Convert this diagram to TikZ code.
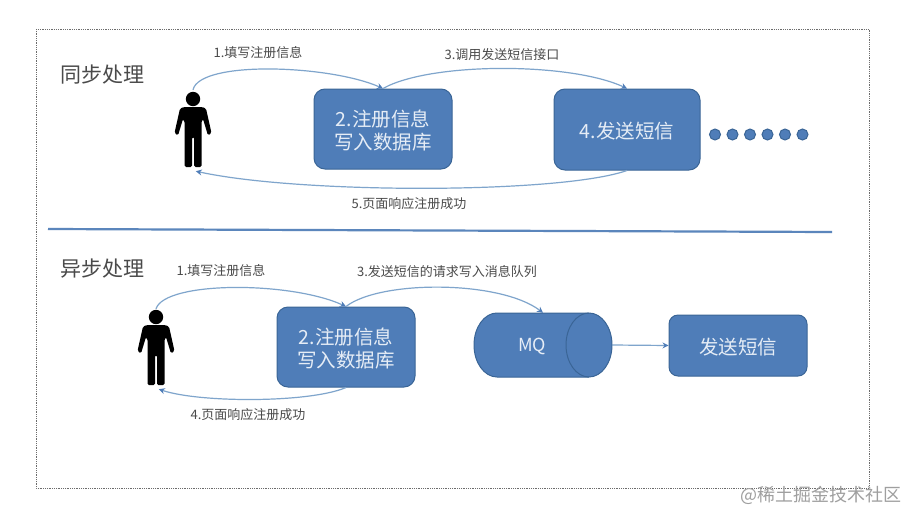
\documentclass[tikz,border=0pt]{standalone}
\usepackage{fontspec}
\setmainfont{Noto Sans CJK SC}
\usetikzlibrary{arrows.meta}
\definecolor{boxfill}{HTML}{4F7DB8}
\definecolor{boxline}{HTML}{3A6596}
\definecolor{curvecol}{HTML}{7FA5CC}
\definecolor{rulecol}{HTML}{5B86BC}
\definecolor{labelcol}{HTML}{4A4A4A}
\definecolor{boxtext}{HTML}{E6EDF6}
\newcommand\lowertext[1]{\raisebox{-2pt}[\height][\depth]{#1}}
\tikzset{
  flowbox/.style={draw=boxline,line width=1pt,fill=boxfill,rounded corners=11pt,inner sep=0pt,align=center,text=boxtext,font=\fontsize{19.5}{23}\selectfont},
  steplabel/.style={text=labelcol,inner sep=0pt,font=\fontsize{13}{15}\selectfont},
  titlelabel/.style={text=labelcol,inner sep=0pt,font=\fontsize{21}{25}\selectfont},
  flowarrow/.style={draw=curvecol,line width=1.2pt,-{Stealth[length=6pt,width=6pt,color=boxfill]}},
  personbox/.style={minimum width=36pt,inner sep=0pt,draw=none},
  dotnode/.style={circle,draw=boxline,line width=1pt,fill=boxfill,minimum size=11pt,inner sep=0pt},
  pics/persongraphic/.style={code={
    \fill[black] (0,0) circle (7.2);
    \fill[black,rounded corners=1.5pt] (-9,8) -- (9,8) -- (13,9.5) -- (18.5,34) -- (15,36.5) -- (10,20) -- (8.5,22) -- (8.5,68) -- (1,68) -- (1,38) -- (-1,38) -- (-1,68) -- (-8.5,68) -- (-8.5,22) -- (-10,20) -- (-15,36.5) -- (-18.5,34) -- (-13,9.5) -- cycle;
  }}
}
\begin{document}
\begin{tikzpicture}[x=1pt,y=-1pt]
\useasboundingbox (0,0) rectangle (917,522);
\fill[white] (0,0) rectangle (917,522);
\draw[gray!85!black,line width=.7pt,dash pattern=on .9pt off .9pt] (36,29) rectangle (869,488);
\draw[rulecol,line width=2.2pt] (48,229) -- (832,232);

\node[titlelabel] (t1) at (102.5,75) {同步处理};
\node[titlelabel] (t2) at (102.5,269) {异步处理};

\pic at (193,99) {persongraphic};
\pic at (156,317) {persongraphic};
\node[personbox,minimum height=81pt] (p1) at (193,130.5) {};
\node[personbox,minimum height=80pt] (p2) at (156,349) {};

\node[flowbox,minimum width=138pt,minimum height=80pt] (reg1) at (383,129) {\lowertext{2.注册信息}\\\lowertext{写入数据库}};
\node[flowbox,minimum width=146pt,minimum height=81pt] (sms1) at (627,129.5) {\lowertext{4.发送短信}};
\node[flowbox,minimum width=138pt,minimum height=80pt] (reg2) at (346,347) {\lowertext{2.注册信息}\\\lowertext{写入数据库}};
\node[flowbox,minimum width=138pt,minimum height=61pt,rounded corners=9pt] (sms2) at (738,345.5) {\lowertext{发送短信}};

\draw[boxline,fill=boxfill,line width=1pt] (497,313) -- (589,313) arc[start angle=-90,end angle=90,x radius=23,y radius=32] -- (497,377) arc[start angle=90,end angle=270,x radius=23,y radius=32] -- cycle;
\draw[boxline,line width=1pt] (589,313) arc[start angle=270,end angle=90,x radius=23,y radius=32];
\node[minimum width=138pt,minimum height=64pt,inner sep=0pt] (mq) at (543,345) {};
\node[inner sep=0pt,text=boxtext,font=\fontsize{18}{21}\selectfont] (mqt) at (532,346) {MQ};

\foreach \n/\xx in {1/715,2/732.5,3/750,4/767.5,5/785,6/802.5}
  \node[dotnode] (d\n) at (\xx,134.5) {};

\draw[flowarrow] (p1.north) .. controls (200,60) and (330,65) .. (reg1.north);
\draw[flowarrow] (reg1.north) .. controls (430,62) and (570,62) .. (sms1.north);
\draw[flowarrow] (sms1.south) .. controls (560,194) and (300,194) .. (p1.-86);
\draw[flowarrow] (p2.north) .. controls (165,281) and (290,281) .. (reg2.north);
\draw[flowarrow] (reg2.north) .. controls (380,280) and (500,280) .. (mq.north);
\draw[flowarrow] (reg2.south) .. controls (310,403) and (200,403) .. (p2.-86);
\draw[flowarrow] (mq.east) -- (sms2.west);

\node[steplabel] (l1) at (258,52.5) {1.填写注册信息};
\node[steplabel] (l2) at (502,54.5) {3.调用发送短信接口};
\node[steplabel] (l3) at (409,203.5) {5.页面响应注册成功};
\node[steplabel] (l4) at (221,270.5) {1.填写注册信息};
\node[steplabel] (l5) at (447,271.5) {3.发送短信的请求写入消息队列};
\node[steplabel] (l6) at (248,414.5) {4.页面响应注册成功};

\node[inner sep=0pt,text=gray!75,font=\fontsize{18}{21}\selectfont] (wm) at (821,495.5) {@稀土掘金技术社区};
\end{tikzpicture}
\end{document}
